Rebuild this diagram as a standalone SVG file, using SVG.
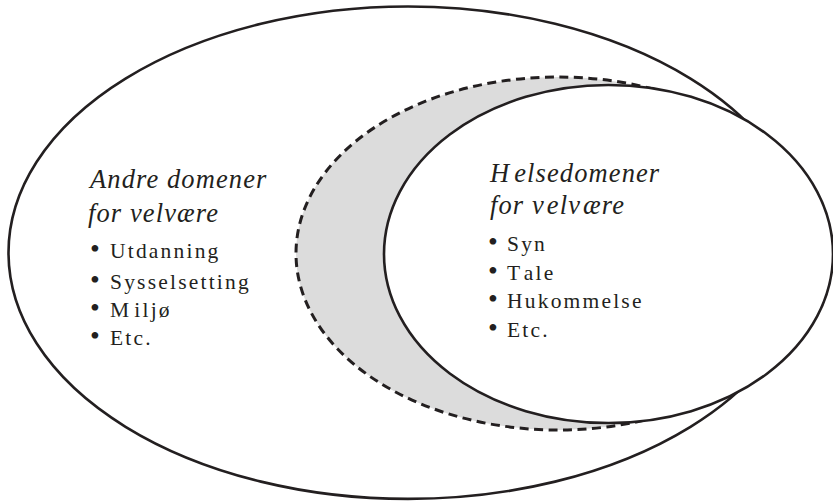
<svg xmlns="http://www.w3.org/2000/svg" width="833" height="501" viewBox="0 0 833 501">
<style>
.sol{fill:#fff;stroke:#231f20;stroke-width:2.6}
.dash{fill:#dcdcdc;stroke:#231f20;stroke-width:3;stroke-dasharray:9 5.5}
.h{font-family:"Liberation Serif","Times New Roman",serif;font-style:italic;font-size:26.5px;fill:#231f20;letter-spacing:1.1px}
.b{font-family:"Liberation Serif","Times New Roman",serif;font-size:21.5px;fill:#231f20;letter-spacing:2.2px}
.d{font-size:28px;letter-spacing:0}
</style>
<rect width="833" height="501" fill="#fff"/>
<g id="andre-domener">
<ellipse class="sol" cx="408" cy="252.7" rx="399.5" ry="246.2"/>
<text class="h" x="90" y="188">Andre domener</text>
<text class="h" x="88" y="222">for velvære</text>
<text class="b" x="90" y="258"><tspan class="d">•</tspan><tspan x="110">Utdanning</tspan></text>
<text class="b" x="90" y="289"><tspan class="d">•</tspan><tspan x="110">Sysselsetting</tspan></text>
<text class="b" x="90" y="317"><tspan class="d">•</tspan><tspan x="110">M</tspan><tspan dx="3">iljø</tspan></text>
<text class="b" x="90" y="345"><tspan class="d">•</tspan><tspan x="110">Etc.</tspan></text>
</g>
<g id="overlap">
<ellipse class="dash" cx="558" cy="253.5" rx="262" ry="176.5"/>
</g>
<g id="helsedomener">
<ellipse class="sol" cx="608.5" cy="254" rx="224.5" ry="169"/>
<text class="h" x="490" y="182">H<tspan dx="4">elsedomener</tspan></text>
<text class="h" x="490" y="214">for v<tspan dx="2">elv</tspan><tspan dx="2">ære</tspan></text>
<text class="b" x="488" y="251"><tspan class="d">•</tspan><tspan x="507">Syn</tspan></text>
<text class="b" x="488" y="280"><tspan class="d">•</tspan><tspan x="507">T</tspan><tspan dx="3">ale</tspan></text>
<text class="b" x="488" y="308"><tspan class="d">•</tspan><tspan x="507">Hukommelse</tspan></text>
<text class="b" x="488" y="337"><tspan class="d">•</tspan><tspan x="507">Etc.</tspan></text>
</g>
<g id="connectors"/>
</svg>
